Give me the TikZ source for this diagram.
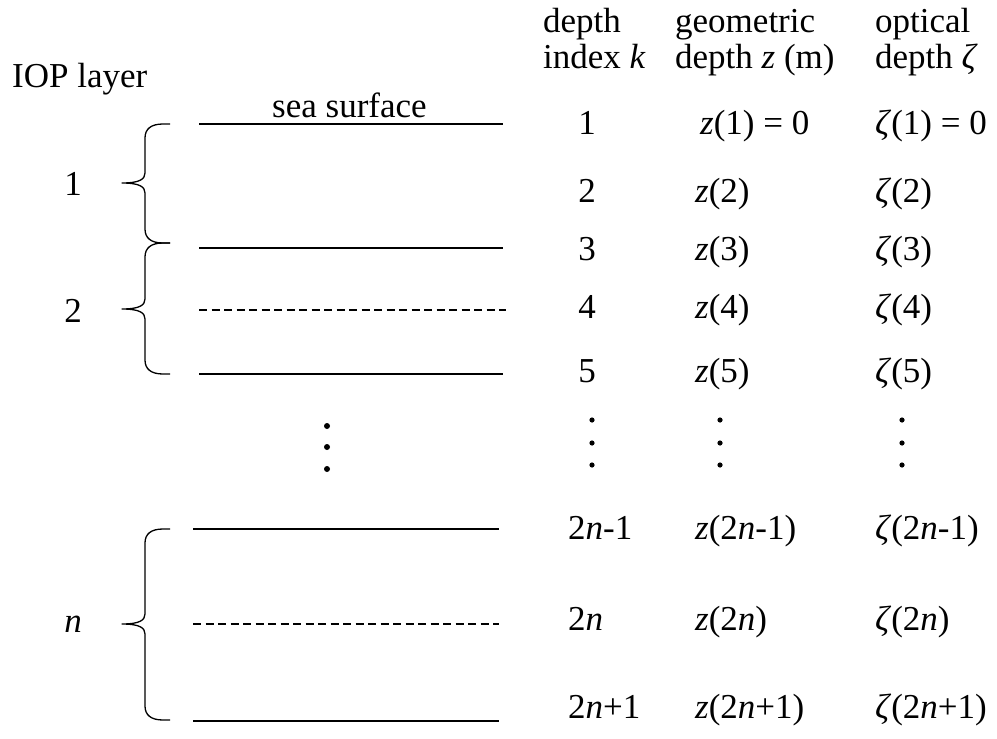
\documentclass[tikz,border=0pt]{standalone}
\usepackage{fontspec}
\setmainfont{Liberation Serif}
\newcommand\drawbrace[3]{%
  \draw[bracestyle] (170,#1) -- (163,#1) .. controls (151,#1) and (145,#1+5) .. (145,#1+14)
    -- (145,#2-10) .. controls (145,#2-4) and (140,#2) .. (122,#2)
    .. controls (140,#2) and (145,#2+4) .. (145,#2+10)
    -- (145,#3-14) .. controls (145,#3-5) and (151,#3) .. (163,#3) -- (170,#3);}
\begin{document}
\begin{tikzpicture}[x=1pt,y=-1pt,
  txt/.style={inner sep=0pt, anchor=base west, font=\fontsize{35}{42}\selectfont},
  ctxt/.style={txt, anchor=base},
  layer/.style={line width=1.6pt},
  half/.style={line width=1.4pt, dash pattern=on 8pt off 4.5pt},
  bracestyle/.style={line width=1.3pt, line join=round},
  dot/.style={fill=black}]
\useasboundingbox (0,0) rectangle (997,739);

% headings
\node[txt] (iop) at (12,87) {IOP layer};
\node[txt] (sea) at (272,117) {sea surface};
\node[txt] (h1a) at (543,32) {depth};
\node[txt] (h1b) at (543,68) {index \textit{k}};
\node[txt] (h2a) at (675,32) {geometric};
\node[txt] (h2b) at (675,68) {depth \textit{z} (m)};
\node[txt] (h3a) at (875,32) {optical};
\node[txt] (h3b) at (875,68) {depth \textit{ζ}};

% layer boundaries
\coordinate (l1a) at (199,124); \coordinate (l1b) at (503,124);
\coordinate (l3a) at (199,248); \coordinate (l3b) at (503,248);
\coordinate (l4a) at (199,310); \coordinate (l4b) at (506,310);
\coordinate (l5a) at (199,374); \coordinate (l5b) at (503,374);
\coordinate (m1a) at (193,529); \coordinate (m1b) at (499,529);
\coordinate (m2a) at (193,624); \coordinate (m2b) at (499,624);
\coordinate (m3a) at (193,721); \coordinate (m3b) at (499,721);
\draw[layer] (l1a) -- (l1b);
\draw[layer] (l3a) -- (l3b);
\draw[half] (l4a) -- (l4b);
\draw[layer] (l5a) -- (l5b);
\draw[layer] (m1a) -- (m1b);
\draw[half] (m2a) -- (m2b);
\draw[layer] (m3a) -- (m3b);

% braces
\drawbrace{124}{183}{243}
\drawbrace{243}{309}{374}
\drawbrace{529}{624}{720}
\node[ctxt] (L1) at (73,195) {1};
\node[ctxt] (L2) at (73,322) {2};
\node[ctxt] (Ln) at (73,632) {\textit{n}};

% vertical dots
\foreach \y in {426,447,469} \fill[dot] (327,\y) circle (3pt);
\foreach \x in {592,720,902} \foreach \y in {420,443,465} \fill[dot] (\x,\y) circle (2.6pt);

% rows
\node[ctxt] (k1) at (587,134) {1};
\node[txt] (z1) at (700,134) {\textit{z}(1) = 0};
\node[txt] (c1) at (875,134) {\textit{ζ}(1) = 0};
\node[ctxt] (k2) at (587,202) {2};
\node[txt] (z2) at (695,202) {\textit{z}(2)};
\node[txt] (c2) at (875,202) {\textit{ζ}(2)};
\node[ctxt] (k3) at (587,260) {3};
\node[txt] (z3) at (695,260) {\textit{z}(3)};
\node[txt] (c3) at (875,260) {\textit{ζ}(3)};
\node[ctxt] (k4) at (587,318) {4};
\node[txt] (z4) at (695,318) {\textit{z}(4)};
\node[txt] (c4) at (875,318) {\textit{ζ}(4)};
\node[ctxt] (k5) at (587,382) {5};
\node[txt] (z5) at (695,382) {\textit{z}(5)};
\node[txt] (c5) at (875,382) {\textit{ζ}(5)};
\node[txt] (kn1) at (568,539) {2\textit{n}-1};
\node[txt] (zn1) at (695,539) {\textit{z}(2\textit{n}-1)};
\node[txt] (cn1) at (875,539) {\textit{ζ}(2\textit{n}-1)};
\node[txt] (kn2) at (568,630) {2\textit{n}};
\node[txt] (zn2) at (695,630) {\textit{z}(2\textit{n})};
\node[txt] (cn2) at (875,630) {\textit{ζ}(2\textit{n})};
\node[txt] (kn3) at (568,718) {2\textit{n}+1};
\node[txt] (zn3) at (695,718) {\textit{z}(2\textit{n}+1)};
\node[txt] (cn3) at (875,718) {\textit{ζ}(2\textit{n}+1)};
\end{tikzpicture}
\end{document}
